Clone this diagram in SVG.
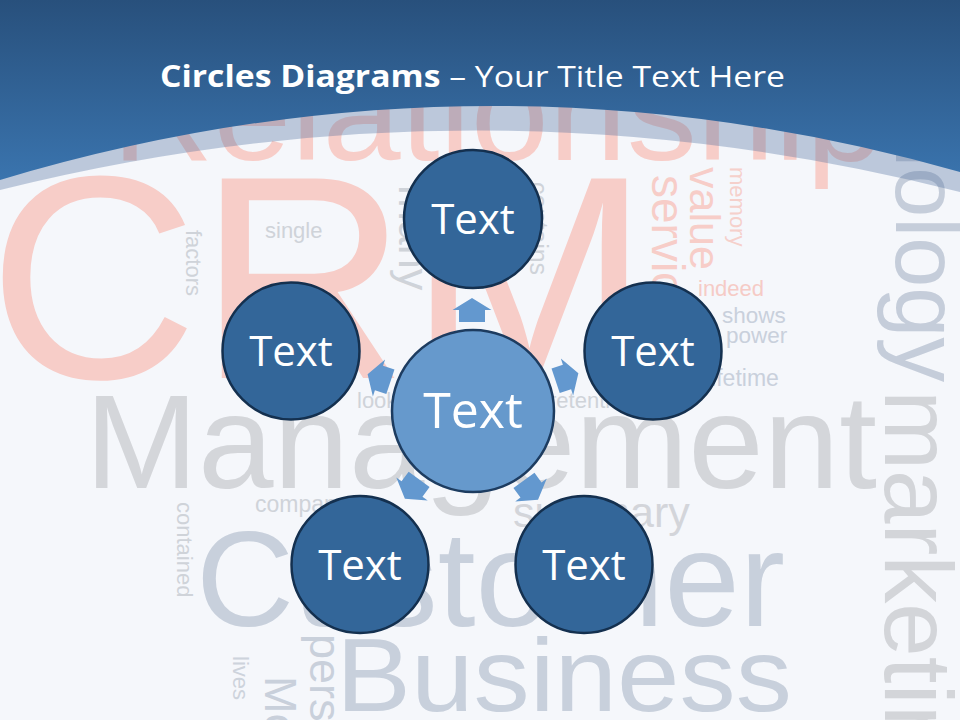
<svg xmlns="http://www.w3.org/2000/svg" width="960" height="720" viewBox="0 0 960 720">
<defs>
<linearGradient id="hdr" x1="0" y1="0" x2="0" y2="1">
<stop offset="0" stop-color="#28507c"/>
<stop offset="1" stop-color="#3a74ae"/>
</linearGradient>
<polygon id="arr" points="0,-12 19.5,0 13,0 13,12 -13,12 -13,0 -19.5,0"/>
</defs>
<style>
.w{font-family:"Liberation Sans",Arial,sans-serif}
.pk{fill:#f7cdc8}
.gr{fill:#d4d6da}
.bg{fill:#c8d0dc}
.sg{fill:#cfd3d9}
.node circle{fill:#336699;stroke:#14304f;stroke-width:2.5}
.node text{font-family:"Open Sans","Noto Sans",sans-serif;fill:#ffffff;text-anchor:middle;font-size:42px}
#node-center circle{fill:#6699cc;stroke:#1d3c60}
#node-center text{font-size:50px}
#connectors use{fill:#6398cf}
</style>
<rect width="960" height="720" fill="#f5f7fb"/>
<g id="wordcloud" class="w">
<text class="pk" x="-12" y="378" font-size="290" textLength="662" lengthAdjust="spacingAndGlyphs">CRM</text>
<text class="pk" x="112" y="160" font-size="138" textLength="772" lengthAdjust="spacingAndGlyphs">Relationship</text>
<text class="gr" x="85" y="488" font-size="134" textLength="792" lengthAdjust="spacingAndGlyphs">Management</text>
<text class="bg" x="196" y="626" font-size="135" textLength="589" lengthAdjust="spacingAndGlyphs">Customer</text>
<text class="bg" x="336" y="711" font-size="104" textLength="456" lengthAdjust="spacingAndGlyphs">Business</text>
<text fill="#c5cdda" font-size="90" transform="translate(896,-53) rotate(90)">technology</text>
<text fill="#d3d5d9" font-size="96" transform="translate(885,390) rotate(90)">marketing</text>
<text class="sg" x="265" y="238" font-size="22">single</text>
<text class="sg" font-size="22" transform="translate(186,230) rotate(90)">factors</text>
<text class="sg" font-size="22" transform="translate(177,502) rotate(90)">contained</text>
<text class="sg" font-size="43" transform="translate(399,185) rotate(90)">many</text>
<text class="sg" font-size="25" transform="translate(530,182) rotate(90)">contains</text>
<text class="sg" x="255" y="512" font-size="23">company</text>
<text fill="#d3d5da" x="513" y="527" font-size="43">summary</text>
<text class="sg" x="357" y="408" font-size="22">look</text>
<text class="sg" x="549" y="408" font-size="22">retention</text>
<text fill="#f5d0cb" font-size="22" transform="translate(730,167) rotate(90)">memory</text>
<text class="pk" font-size="43" transform="translate(690,167) rotate(90)">value</text>
<text class="pk" font-size="46" transform="translate(652,175) rotate(90)">service</text>
<text fill="#f5cbc6" x="698" y="296" font-size="22">indeed</text>
<text fill="#c9d0dc" x="722" y="323" font-size="22.5">shows</text>
<text fill="#c9d0dc" x="726" y="343" font-size="22.5">power</text>
<text fill="#c9d0dc" x="706" y="386" font-size="23">lifetime</text>
<text fill="#c9d0db" font-size="45" transform="translate(310,634) rotate(90)">pers</text>
<text fill="#c9d0db" font-size="45" transform="translate(265,676) rotate(90)">Mo</text>
<text fill="#cdd3dc" font-size="22" transform="translate(233,656) rotate(90)">lives</text>
</g>
<g id="header">
<path d="M0,0 H960 V192 Q480,70 0,190 Z" fill="#4a6a9a" fill-opacity="0.33"/>
<path d="M0,0 H960 V172 Q480,36 0,180 Z" fill="url(#hdr)"/>
<text x="160" y="87" font-family="'Open Sans','Noto Sans',sans-serif" font-size="30" fill="#ffffff" textLength="625" lengthAdjust="spacingAndGlyphs"><tspan font-weight="bold">Circles Diagrams</tspan> – Your Title Text Here</text>
</g>
<g id="connectors">
<use href="#arr" transform="translate(472,310)"/>
<use href="#arr" transform="translate(379,378) rotate(-71.75)"/>
<use href="#arr" transform="translate(567,377) rotate(71.6)"/>
<use href="#arr" transform="translate(412,489) rotate(216.4)"/>
<use href="#arr" transform="translate(531,490) rotate(144.1)"/>
</g>
<g id="node-center" class="node">
<circle cx="473" cy="411" r="81"/>
<text x="473" y="428">Text</text>
</g>
<g id="node-top" class="node">
<circle cx="473" cy="219" r="69"/>
<text x="473" y="234">Text</text>
</g>
<g id="node-left" class="node">
<circle cx="291" cy="351" r="68.5"/>
<text x="291" y="366">Text</text>
</g>
<g id="node-right" class="node">
<circle cx="653" cy="351" r="68.5"/>
<text x="653" y="366">Text</text>
</g>
<g id="node-bottom-left" class="node">
<circle cx="360" cy="564.5" r="68.5"/>
<text x="360" y="579.5">Text</text>
</g>
<g id="node-bottom-right" class="node">
<circle cx="584" cy="564.5" r="68.5"/>
<text x="584" y="579.5">Text</text>
</g>
</svg>
